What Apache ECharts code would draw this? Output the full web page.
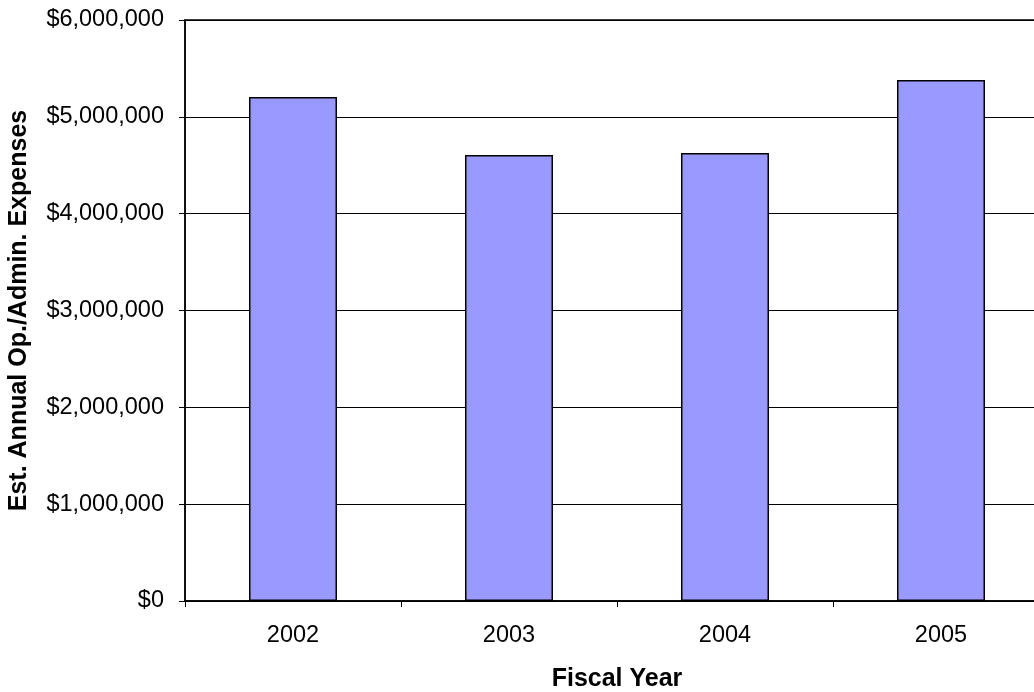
<!DOCTYPE html>
<html><head><meta charset="utf-8">
<script src="https://cdn.jsdelivr.net/npm/echarts@6/dist/echarts.min.js"></script>
<style>html,body{margin:0;padding:0;background:#fff}#c{width:1034px;height:692px}</style>
</head><body><div id="c"></div>
<script>
const categories = ['2002', '2003', '2004', '2005'];
const expenses = [5205000, 4606000, 4627000, 5380000];
const yTicks = [0, 1000000, 2000000, 3000000, 4000000, 5000000, 6000000];

const chart = echarts.init(document.getElementById('c'));
const fmt = v => '$' + v.toString().replace(/\B(?=(\d{3})+(?!\d))/g, ',');
chart.setOption({
  animation: false,
  grid: { left: 185, top: 20, width: 864, height: 581, outerBoundsMode: 'none', containLabel: false,
          show: true, borderColor: '#000', borderWidth: 1.5, backgroundColor: 'transparent' },
  xAxis: {
    type: 'category', data: categories,
    name: 'Fiscal Year', nameLocation: 'middle', nameGap: 66,
    nameTextStyle: { fontFamily: 'Liberation Sans', fontSize: 25, fontWeight: 'bold', color: '#000' },
    axisLine: { lineStyle: { color: '#000', width: 1.5 } },
    axisTick: { show: true, length: 6, lineStyle: { color: '#000' } },
    axisLabel: { margin: 23, fontFamily: 'Liberation Sans', fontSize: 23.5, color: '#000' }
  },
  yAxis: {
    type: 'value', min: yTicks[0], max: yTicks[yTicks.length - 1], interval: 1000000,
    name: 'Est. Annual Op./Admin. Expenses', nameLocation: 'middle', nameGap: 153,
    nameTextStyle: { fontFamily: 'Liberation Sans', fontSize: 25, fontWeight: 'bold', color: '#000' },
    axisLine: { show: true, lineStyle: { color: '#000', width: 1.5 } },
    axisTick: { show: true, length: 6, lineStyle: { color: '#000' } },
    axisLabel: { margin: 21, fontFamily: 'Liberation Sans', fontSize: 23.5, color: '#000', formatter: fmt },
    splitLine: { show: true, lineStyle: { color: '#000', width: 1 } }
  },
  series: [{
    type: 'bar', data: expenses, barWidth: 88,
    itemStyle: { color: '#9999FF', borderColor: '#000', borderWidth: 1.5 }
  }]
});
</script></body></html>
